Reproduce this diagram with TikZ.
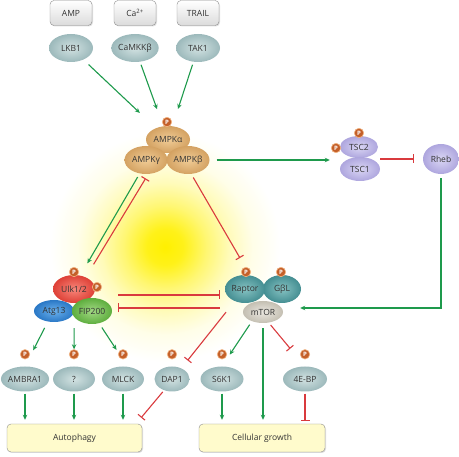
\documentclass[tikz,border=0pt]{standalone}
\usepackage{fontspec}
\setmainfont{Open Sans}
\usetikzlibrary{shapes.geometric,arrows.meta,shadows}

\definecolor{actgreen}{HTML}{1E9A4C}
\definecolor{inhred}{HTML}{D93A3E}
\definecolor{glowyellow}{HTML}{FFF000}
\definecolor{boxyellow}{HTML}{FFFBCC}
\definecolor{pbrown}{HTML}{C4602A}
\definecolor{pring}{HTML}{F2B684}
% light and dark tone of each protein family
\definecolor{greyA}{HTML}{D2E2E2}\definecolor{greyB}{HTML}{9CB9BB}
\definecolor{ampkA}{HTML}{F0CC96}\definecolor{ampkB}{HTML}{D4A262}
\definecolor{tscA}{HTML}{DAD6F4}\definecolor{tscB}{HTML}{AEA6DE}
\definecolor{ulkA}{HTML}{F7877B}\definecolor{ulkB}{HTML}{DE4036}
\definecolor{atgA}{HTML}{6AB0EC}\definecolor{atgB}{HTML}{2A78C6}
\definecolor{fipA}{HTML}{A2D884}\definecolor{fipB}{HTML}{5EAE3E}
\definecolor{torA}{HTML}{86C2C2}\definecolor{torB}{HTML}{448E92}
\definecolor{mtorA}{HTML}{EAE7E0}\definecolor{mtorB}{HTML}{C4BFB2}

% 25bp lands on the edge of the shaded circle
\pgfdeclareradialshading{glow}{\pgfpoint{0bp}{0bp}}{%
    color(0bp)=(glowyellow); color(4bp)=(glowyellow!90!white);
    color(9bp)=(glowyellow!55!white); color(14bp)=(glowyellow!27!white);
    color(19bp)=(glowyellow!9!white); color(25bp)=(white); color(50bp)=(white)}

\tikzset{
    lbl/.style={font=\fontsize{8.5}{10}\selectfont, text=black!80},
    tone/.style={inner color=#1A, outer color=#1B},
    signal/.style={lbl, rectangle, rounded corners=4pt, draw=black!45,
        top color=white, bottom color=black!14, minimum width=42pt, minimum height=25pt,
        drop shadow={opacity=0.25, shadow xshift=1pt, shadow yshift=-1pt}},
    prot/.style={lbl, ellipse, inner sep=0pt, minimum width=44pt, minimum height=28pt},
    outcome/.style={lbl, rectangle, rounded corners=4pt,
        draw=black!45, fill=boxyellow, minimum height=28pt,
        drop shadow={opacity=0.25, shadow xshift=1pt, shadow yshift=-1pt}},
    phos/.style={circle, inner sep=0pt, minimum size=9.5pt, fill=pbrown, draw=pring,
        line width=0.6pt, text=white, font=\fontsize{6}{6}\bfseries\selectfont},
    act/.style={draw=actgreen, line width=1.1pt, -{Stealth[length=5pt, width=4.5pt]}},
    inh/.style={draw=inhred, line width=1.1pt, -{Bar[width=9pt]}}
}

\begin{document}
\begin{tikzpicture}[x=1pt, y=-1pt]
    \useasboundingbox (0,0) rectangle (459,457);
    \shade[shading=glow] (165,247) circle (115);

    % upstream signals and kinases
    \path node[signal] (AMP) at (71,13) {AMP}
        node[signal] (Ca) at (135,13) {Ca\textsuperscript{2+}}
        node[signal] (TRAIL) at (198,13) {TRAIL}
        node[prot, tone=grey] (LKB1) at (71,48) {LKB1}
        node[prot, tone=grey] (CaMKK) at (135,48) {CaMKKβ}
        node[prot, tone=grey] (TAK1) at (198,48) {TAK1};

    % AMPK complex
    \path node[prot, tone=ampk, minimum height=27pt] (AMPKa) at (168,139.5) {AMPKα}
        node[prot, tone=ampk, minimum width=43pt] (AMPKg) at (146,160) {AMPKγ}
        node[prot, tone=ampk, minimum width=43pt] (AMPKb) at (188,160) {AMPKβ};

    % TSC complex and Rheb
    \path node[prot, tone=tsc, minimum width=38pt, minimum height=22pt] (TSC2) at (359,147) {TSC2}
        node[prot, tone=tsc, minimum width=40pt, minimum height=24pt] (TSC1) at (360,169) {TSC1}
        node[prot, tone=tsc, minimum width=36pt, minimum height=30pt] (Rheb) at (441,159) {Rheb};

    % mTORC1
    \path node[prot, tone=mtor, minimum width=40pt, minimum height=22pt] (mTOR) at (263,312) {mTOR}
        node[prot, tone=tor, minimum width=38pt] (GbL) at (282,289) {GβL}
        node[prot, tone=tor, minimum width=40pt] (Raptor) at (245,289) {Raptor};

    % ULK complex
    \path node[prot, tone=ulk, minimum width=42pt] (Ulk) at (74,289) {Ulk1/2}
        node[prot, tone=atg, minimum width=40pt, minimum height=22pt] (Atg13) at (54,311) {Atg13}
        node[prot, tone=fip, minimum width=40pt, minimum height=26pt] (FIP200) at (92,311) {FIP200};

    % substrates
    \path node[prot, tone=grey, minimum height=25pt] (AMBRA1) at (25,379) {AMBRA1}
        node[prot, tone=grey, minimum width=42pt, minimum height=25pt] (unk) at (74,379) {?}
        node[prot, tone=grey, minimum width=42pt, minimum height=25pt] (MLCK) at (123,379) {MLCK}
        node[prot, tone=grey, minimum width=35pt, minimum height=25pt] (DAP1) at (172,379) {DAP1}
        node[prot, tone=grey, minimum width=43pt, minimum height=25pt] (S6K1) at (222,379) {S6K1}
        node[prot, tone=grey, minimum height=25pt] (EBP) at (305,379) {4E-BP};

    \path node[outcome, minimum width=135pt] (autophagy) at (74.5,438) {Autophagy}
        node[outcome, minimum width=126pt] (growth) at (262,438) {Cellular growth};

    % phosphorylation sites
    \path node[phos] (pAMPK) at (167,122) {P}
        node[phos] (pTSCa) at (359,133) {P}
        node[phos] (pTSCb) at (336,148) {P}
        node[phos] (pRaptor) at (246,272) {P}
        node[phos] (pGbL) at (281,272) {P}
        node[phos] (pUlka) at (74,272) {P}
        node[phos] (pUlkb) at (97,287) {P};
    \foreach \n in {AMBRA1, unk, MLCK, DAP1, S6K1, EBP}
        \node[phos] (p\n) at ([yshift=12pt]\n.north) {P};

    % activation and inhibition
    \draw[act, shorten <=7pt, shorten >=22pt] (LKB1) -- (AMPKa);
    \draw[act, shorten <=3pt, shorten >=18pt] (CaMKK) -- (AMPKa);
    \draw[act, shorten <=3pt, shorten >=18pt] (TAK1) -- (AMPKa);
    \draw[act, shorten <=7pt, shorten >=10pt] (AMPKb) -- (AMPKb -| TSC1.west);
    \draw[inh, shorten >=9pt] (TSC1.east |- Rheb) -- (Rheb);
    \draw[act, shorten <=4pt, shorten >=17pt] (Rheb) |- ([yshift=4pt]mTOR.east);
    \draw[act, shorten <=4pt, shorten >=14pt] (AMPKg.-115) -- (Ulk.65);
    \draw[inh, shorten <=15pt, shorten >=5pt] (Ulk.45) -- (AMPKg.-81);
    \draw[inh, shorten <=4pt, shorten >=20pt] (AMPKb.-77) -- (Raptor.70);
    \draw[inh, shorten <=6pt, shorten >=5pt] (FIP200.east |- 0,295) -- (Raptor.west |- 0,295);
    \draw[inh, shorten <=5pt, shorten >=6pt] (Raptor.west |- 0,308) -- (FIP200.east |- 0,308);
    \draw[inh, shorten <=14pt, shorten >=10pt] (Raptor.-130) -- (DAP1.49);
    \draw[act, shorten <=4pt, shorten >=14pt] (mTOR.-140) -- (S6K1.north);
    \draw[act, shorten <=5pt, shorten >=4pt] (mTOR) -- (mTOR |- growth.north);
    \draw[inh, shorten <=3pt, shorten >=23pt] (mTOR.-62) -- (EBP.north);
    \draw[act, shorten <=7pt, shorten >=18pt] (Atg13.-120) -- (AMBRA1.north);
    \draw[act, shorten <=6pt, shorten >=17pt] (Atg13.east |- Atg13.south) -- (unk.north);
    \draw[act, shorten <=5pt, shorten >=20pt] (FIP200.-60) -- (MLCK.70);
    \foreach \n in {AMBRA1, unk, MLCK}
        \draw[act, shorten <=2pt, shorten >=4pt] (\n) -- (\n |- autophagy.north);
    \draw[inh, shorten <=2pt, shorten >=8pt] (DAP1.-125) -- (autophagy.13);
    \draw[act, shorten <=2pt, shorten >=4pt] (S6K1) -- (S6K1 |- growth.north);
    \draw[inh, shorten <=2pt, shorten >=3pt] (EBP) -- (EBP |- growth.north);
\end{tikzpicture}
\end{document}
